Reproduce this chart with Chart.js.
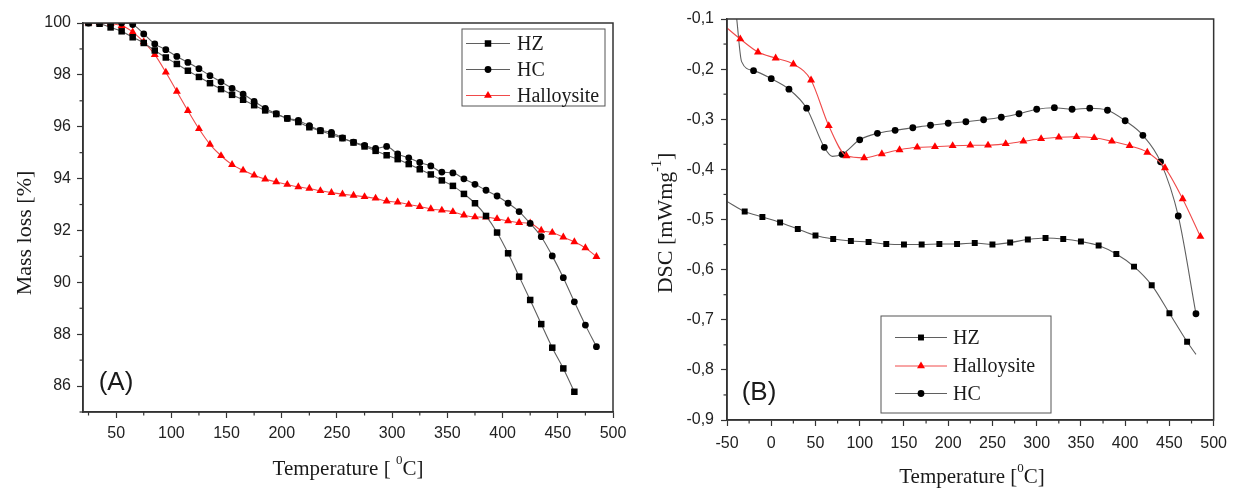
<!DOCTYPE html>
<html><head><meta charset="utf-8">
<script src="https://cdn.jsdelivr.net/npm/chart.js@4.4.0/dist/chart.umd.min.js"></script>
<style>
html,body{margin:0;padding:0;background:#fff;}
#wrap{position:relative;width:1235px;height:492px;overflow:hidden;background:#fff;}
</style></head><body>
<div id="wrap">
<div style="position:absolute;left:0;top:0;width:640px;height:492px"><canvas id="cA"></canvas></div>
<div style="position:absolute;left:640px;top:0;width:595px;height:492px"><canvas id="cB"></canvas></div>
</div>
<script>
// ---------- Panel A (TGA) data ----------
const tempA_HZ = [25,35,45,55,65,75,85,95,105,115,125,135,145,155,165,175,185,195,205,215,225,235,245,255,265,275,285,295,305,315,325,335,345,355,365,375,385,395,405,415,425,435,445,455,465];
const massHZ = [100,99.97,99.83,99.68,99.45,99.23,98.94,98.67,98.42,98.16,97.92,97.68,97.45,97.23,97.04,96.83,96.63,96.49,96.32,96.18,95.98,95.84,95.70,95.56,95.39,95.24,95.07,94.90,94.75,94.56,94.36,94.16,93.93,93.72,93.41,93.05,92.56,91.92,91.12,90.22,89.32,88.39,87.48,86.68,85.78];
const tempA = [25,35,45,55,65,75,85,95,105,115,125,135,145,155,165,175,185,195,205,215,225,235,245,255,265,275,285,295,305,315,325,335,345,355,365,375,385,395,405,415,425,435,445,455,465,475,485];
const massHC = [100,100,100,100,99.94,99.58,99.19,98.97,98.71,98.48,98.24,97.97,97.73,97.48,97.26,96.98,96.71,96.50,96.32,96.24,96.04,95.86,95.78,95.57,95.41,95.28,95.16,95.24,94.95,94.80,94.62,94.49,94.25,94.22,93.99,93.78,93.55,93.33,93.05,92.73,92.27,91.76,91.02,90.18,89.25,88.35,87.52];
const massHal = [100,100,99.97,99.90,99.65,99.27,98.78,98.10,97.36,96.62,95.92,95.32,94.88,94.54,94.32,94.13,93.98,93.87,93.77,93.68,93.62,93.53,93.46,93.40,93.35,93.30,93.24,93.13,93.09,93.00,92.92,92.83,92.78,92.72,92.59,92.52,92.51,92.45,92.37,92.30,92.28,92.00,91.92,91.74,91.56,91.33,90.99];
const xTicksA = [50,100,150,200,250,300,350,400,450,500];
const xMinorA = [25,75,125,175,225,275,325,375,425,475];
const yTicksA = [86,88,90,92,94,96,98,100];
const yMinorA = [85,87,89,91,93,95,97,99];

// ---------- Panel B (DSC) data ----------
const tempB_HZ = [-50,-30,-10,10,30,50,70,90,110,130,150,170,190,210,230,250,270,290,310,330,350,370,390,410,430,450,470,480];
const dscHZ = [-0.464,-0.484,-0.495,-0.506,-0.519,-0.532,-0.539,-0.543,-0.545,-0.549,-0.550,-0.550,-0.549,-0.549,-0.547,-0.550,-0.546,-0.540,-0.537,-0.539,-0.544,-0.552,-0.569,-0.594,-0.631,-0.687,-0.744,-0.769];
const unmarkedHZ = [-50,480];
const tempB_Hal = [-50,-35,-15,5,25,45,65,85,105,125,145,165,185,205,225,245,265,285,305,325,345,365,385,405,425,445,465,485];
const dscHal = [-0.118,-0.140,-0.166,-0.178,-0.190,-0.222,-0.313,-0.373,-0.377,-0.369,-0.361,-0.356,-0.355,-0.353,-0.352,-0.352,-0.349,-0.344,-0.339,-0.336,-0.335,-0.337,-0.344,-0.353,-0.366,-0.397,-0.459,-0.534];
const unmarkedHal = [-50];
const tempB_HC = [-44,-39,-33.5,-20,0,20,40,60,69,80,100,120,140,160,180,200,220,240,260,280,300,320,340,360,380,400,420,440,460,480];
const dscHC = [-0.02,-0.1,-0.185,-0.203,-0.219,-0.240,-0.278,-0.356,-0.374,-0.370,-0.341,-0.328,-0.322,-0.317,-0.312,-0.308,-0.305,-0.301,-0.296,-0.289,-0.280,-0.277,-0.280,-0.278,-0.282,-0.303,-0.332,-0.385,-0.493,-0.688];
const unmarkedHC = [-44,-39,-33.5,69];
const xTicksB = [-50,0,50,100,150,200,250,300,350,400,450,500];
const xMinorB = [-25,25,75,125,175,225,275,325,375,425,475];
const yTicksB = [-0.9,-0.8,-0.7,-0.6,-0.5,-0.4,-0.3,-0.2,-0.1];
const yMinorB = [-0.85,-0.75,-0.65,-0.55,-0.45,-0.35,-0.25,-0.15];

// ---------- styles ----------
const GREY = '#5f5f5f', RED_LINE = '#f04a4a', RED = '#ff0000', AX = '#333';
const TICK_FONT = {family:'"Liberation Sans", Arial, sans-serif', size:16};
const SERIF = '"Liberation Serif", "Times New Roman", serif';

function pts(xs, ys){ return xs.map((x,i)=>({x:x, y:ys[i]})); }
function radiusFn(unmarked, r){ return ctx => (ctx.raw && unmarked.includes(ctx.raw.x)) ? 0 : r; }

function ds(label, data, shape, lineColor, markColor, r, unmarked){
  return {
    label, data, pointStyle: shape, borderColor: lineColor, backgroundColor: markColor,
    pointBackgroundColor: markColor, pointBorderColor: markColor, pointBorderWidth: 0,
    pointRadius: unmarked ? radiusFn(unmarked, r) : r, pointHoverRadius: 0,
    borderWidth: 1.1, cubicInterpolationMode: 'monotone', fill: false
  };
}

function drawMarker(ctx, shape, x, y, r, color){
  ctx.save(); ctx.fillStyle = color; ctx.beginPath();
  if (shape === 'rect'){ const s = Math.SQRT1_2 * r; ctx.rect(x-s, y-s, 2*s, 2*s); }
  else if (shape === 'circle'){ ctx.arc(x, y, r, 0, Math.PI*2); }
  else if (shape === 'triangle'){
    ctx.moveTo(x, y - r);
    ctx.lineTo(x + r*Math.cos(Math.PI/6), y + r*0.5);
    ctx.lineTo(x - r*Math.cos(Math.PI/6), y + r*0.5);
    ctx.closePath();
  }
  ctx.fill(); ctx.restore();
}

function drawSupText(ctx, parts, cx, cy, size, rotate){
  ctx.save();
  ctx.translate(cx, cy);
  if (rotate) ctx.rotate(-Math.PI/2);
  ctx.fillStyle = '#1a1a1a';
  ctx.textBaseline = 'middle';
  const main = size + 'px ' + SERIF, small = Math.round(size*0.62) + 'px ' + SERIF;
  let w = 0;
  parts.forEach(p=>{ ctx.font = p.sup ? small : main; w += ctx.measureText(p.t).width; });
  let x = -w/2;
  ctx.textAlign = 'left';
  parts.forEach(p=>{
    ctx.font = p.sup ? small : main;
    ctx.fillText(p.t, x, p.sup ? -size*0.38 : 0);
    x += ctx.measureText(p.t).width;
  });
  ctx.restore();
}

const decorPlugin = {
  id: 'decor',
  afterDraw(chart, args, o){
    const ctx = chart.ctx, a = chart.chartArea;
    ctx.save(); ctx.strokeStyle = AX; ctx.lineWidth = 1.5;
    ctx.strokeRect(a.left, a.top, a.right - a.left, a.bottom - a.top);
    ctx.lineWidth = 1.2;
    const xs = chart.scales.x, ys = chart.scales.y;
    o.minorX.forEach(v=>{ const px = xs.getPixelForValue(v); ctx.beginPath(); ctx.moveTo(px, a.bottom); ctx.lineTo(px, a.bottom + 3.5); ctx.stroke(); });
    o.minorY.forEach(v=>{ const py = ys.getPixelForValue(v); ctx.beginPath(); ctx.moveTo(a.left, py); ctx.lineTo(a.left - 3.5, py); ctx.stroke(); });
    ctx.restore();
    const L = o.legend;
    ctx.save(); ctx.strokeStyle = '#555'; ctx.lineWidth = 1;
    ctx.strokeRect(L.box[0], L.box[1], L.box[2], L.box[3]);
    L.items.forEach((it, k)=>{
      const d = chart.data.datasets[it];
      const y = L.rows[k];
      ctx.strokeStyle = d.borderColor; ctx.lineWidth = 1;
      ctx.beginPath(); ctx.moveTo(L.line[0], y); ctx.lineTo(L.line[1], y); ctx.stroke();
      drawMarker(ctx, d.pointStyle, (L.line[0]+L.line[1])/2, y, L.r[k], d.pointBackgroundColor);
      ctx.fillStyle = '#1a1a1a'; ctx.font = '20px ' + SERIF; ctx.textBaseline = 'middle'; ctx.textAlign = 'left';
      ctx.fillText(d.label, L.textX, y + 1);
    });
    ctx.restore();
    ctx.save(); ctx.fillStyle = '#1a1a1a'; ctx.font = '26px "Liberation Sans", Arial, sans-serif';
    ctx.textAlign = 'center'; ctx.textBaseline = 'middle';
    ctx.fillText(o.panel.text, o.panel.x, o.panel.y); ctx.restore();
    drawSupText(ctx, o.xTitle.parts, o.xTitle.x, o.xTitle.y, 21, false);
    drawSupText(ctx, o.yTitle.parts, o.yTitle.x, o.yTitle.y, 22, true);
  }
};

function axisX(min, max, ticks, h, pad, fmt){
  return {
    type:'linear', min, max, position:'bottom',
    afterBuildTicks: s => { s.ticks = ticks.map(v=>({value:v})); },
    afterFit: s => { s.height = h; },
    grid:{drawOnChartArea:false, drawTicks:true, tickLength:6, tickColor:AX, tickWidth:1.2, color:AX},
    border:{display:true, color:AX, width:1.5},
    ticks:{font:TICK_FONT, color:'#222', padding:pad, autoSkip:false, maxRotation:0, callback: fmt || (v=>String(v))},
    title:{display:false}
  };
}
function axisY(min, max, ticks, w, pad, fmt){
  return {
    type:'linear', min, max, position:'left',
    afterBuildTicks: s => { s.ticks = ticks.map(v=>({value:v})); },
    afterFit: s => { s.width = w; },
    grid:{drawOnChartArea:false, drawTicks:true, tickLength:6, tickColor:AX, tickWidth:1.2, color:AX},
    border:{display:true, color:AX, width:1.5},
    ticks:{font:TICK_FONT, color:'#222', padding:pad, autoSkip:false, callback: fmt || (v=>String(v))},
    title:{display:false}
  };
}

Chart.register(decorPlugin);

new Chart(document.getElementById('cA'), {
  type:'line',
  data:{ datasets:[
    ds('HZ', pts(tempA_HZ, massHZ), 'rect', GREY, '#000', 4.6),
    ds('HC', pts(tempA, massHC), 'circle', GREY, '#000', 3.4),
    ds('Halloysite', pts(tempA, massHal), 'triangle', RED_LINE, RED, 4.6)
  ]},
  options:{
    responsive:true, maintainAspectRatio:false, animation:false,
    layout:{padding:{top:23, right:27, left:0, bottom:0}},
    scales:{ x: axisX(20, 500, xTicksA, 80, 6), y: axisY(85, 100, yTicksA, 83, 6) },
    plugins:{ legend:{display:false}, tooltip:{enabled:false},
      decor:{
        minorX: xMinorA, minorY: yMinorA,
        legend:{ box:[462,29,143,77], items:[0,1,2], rows:[43.5,69.5,95.5], line:[466,510], textX:517, r:[4.6,3.4,4.6] },
        panel:{ text:'(A)', x:116, y:383 },
        xTitle:{ parts:[{t:'Temperature [ '},{t:'0',sup:true},{t:'C]'}], x:348, y:469 },
        yTitle:{ parts:[{t:'Mass loss [%]'}], x:25, y:233 }
      }
    }
  }
});

const fmtB = v => v.toFixed(1).replace('.', ',');
new Chart(document.getElementById('cB'), {
  type:'line',
  data:{ datasets:[
    ds('HZ', pts(tempB_HZ, dscHZ), 'rect', GREY, '#000', 4.2, unmarkedHZ),
    ds('Halloysite', pts(tempB_Hal, dscHal), 'triangle', RED_LINE, RED, 4.6, unmarkedHal),
    ds('HC', pts(tempB_HC, dscHC), 'circle', GREY, '#000', 3.4, unmarkedHC)
  ]},
  options:{
    responsive:true, maintainAspectRatio:false, animation:false,
    layout:{padding:{top:19, right:16, left:0, bottom:0}},
    scales:{ x: axisX(-50, 500, xTicksB, 72, 8), y: axisY(-0.9, -0.1, yTicksB, 87, 7, fmtB) },
    plugins:{ legend:{display:false}, tooltip:{enabled:false},
      decor:{
        minorX: xMinorB, minorY: yMinorB,
        legend:{ box:[241,316,170,97], items:[0,1,2], rows:[337.5,366,393.5], line:[255,307], textX:313, r:[4.2,4.6,3.4] },
        panel:{ text:'(B)', x:119, y:393 },
        xTitle:{ parts:[{t:'Temperature ['},{t:'0',sup:true},{t:'C]'}], x:332, y:477 },
        yTitle:{ parts:[{t:'DSC [mWmg'},{t:'-1',sup:true},{t:']'}], x:26, y:223 }
      }
    }
  }
});
</script>
</body></html>
